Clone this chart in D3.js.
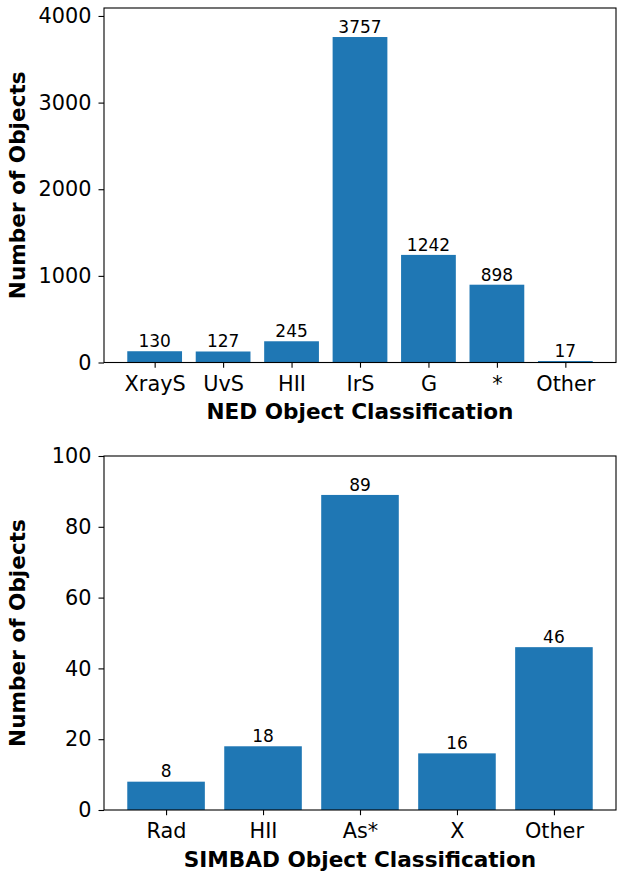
<!DOCTYPE html>
<html><head><meta charset="utf-8">
<script src="https://cdn.jsdelivr.net/npm/d3@7"></script>
<style>body{margin:0;background:#fff}svg{display:block}text{font-family:"DejaVu Sans",sans-serif}</style>
</head><body><div id="c"></div>
<script>
const nedCategories = ["XrayS","UvS","HII","IrS","G","*","Other"];
const nedValues = [130,127,245,3757,1242,898,17];
const nedTicks = [0,1000,2000,3000,4000];
const simbadCategories = ["Rad","HII","As*","X","Other"];
const simbadValues = [8,18,89,16,46];
const simbadTicks = [0,20,40,60,80,100];

const W=618,H=873;
const svg=d3.select("#c").append("svg").attr("width",W).attr("height",H);
const color="#1f77b4";
const tickFont=20.8, labFont=17, axFont=21.6;

function panel(cats, vals, ticks, ymax, box, xlabel){
  const n=cats.length, m=0.05*(n-0.2);
  const x=d3.scaleLinear().domain([-0.4-m,n-1+0.4+m]).range([box.l,box.r]);
  const y=d3.scaleLinear().domain([0,ymax]).range([box.b,box.t]);
  const g=svg.append("g");
  g.selectAll("rect.bar").data(vals).join("rect").attr("class","bar")
    .attr("x",(d,i)=>x(i-0.4)).attr("width",(d,i)=>x(i+0.4)-x(i-0.4))
    .attr("y",d=>y(d)).attr("height",d=>y(0)-y(d)).attr("fill",color);
  g.selectAll("text.bl").data(vals).join("text").attr("class","bl")
    .attr("x",(d,i)=>x(i)).attr("y",d=>y(d)-4.2).attr("text-anchor","middle")
    .attr("font-size",labFont).attr("fill","#000").text(d=>d);
  g.append("rect").attr("x",box.l).attr("y",box.t).attr("width",box.r-box.l).attr("height",box.b-box.t)
    .attr("fill","none").attr("stroke","#000").attr("stroke-width",1.1);
  const xa=d3.axisBottom(x).tickValues(d3.range(n)).tickFormat(i=>cats[i]).tickSize(5.2).tickPadding(4.9);
  const gx=g.append("g").attr("transform",`translate(0,${box.b})`).call(xa);
  const ya=d3.axisLeft(y).tickValues(ticks).tickFormat(d3.format("d")).tickSize(5.5).tickPadding(7);
  const gy=g.append("g").attr("transform",`translate(${box.l},0)`).call(ya);
  [gx,gy].forEach(a=>{a.select(".domain").remove();
    a.selectAll(".tick line").attr("stroke","#000").attr("stroke-width",1.1);
    a.selectAll(".tick text").attr("font-size",tickFont).attr("fill","#000").attr("font-family","DejaVu Sans");});
  gx.selectAll(".tick text").attr("y",9.8).attr("dy",18.2);
  g.append("text").attr("x",(box.l+box.r)/2).attr("y",box.b+56.5).attr("text-anchor","middle")
    .attr("font-size",axFont).attr("font-weight","bold").text(xlabel);
  g.append("text").attr("transform",`translate(25,${(box.t+box.b)/2}) rotate(-90)`).attr("text-anchor","middle")
    .attr("font-size",axFont).attr("font-weight","bold").text("Number of Objects");
}
panel(nedCategories,nedValues,nedTicks,4092,{l:104,r:616,t:8,b:362.5},"NED Object Classification");
panel(simbadCategories,simbadValues,simbadTicks,100,{l:104,r:616,t:456,b:810},"SIMBAD Object Classification");
</script></body></html>
